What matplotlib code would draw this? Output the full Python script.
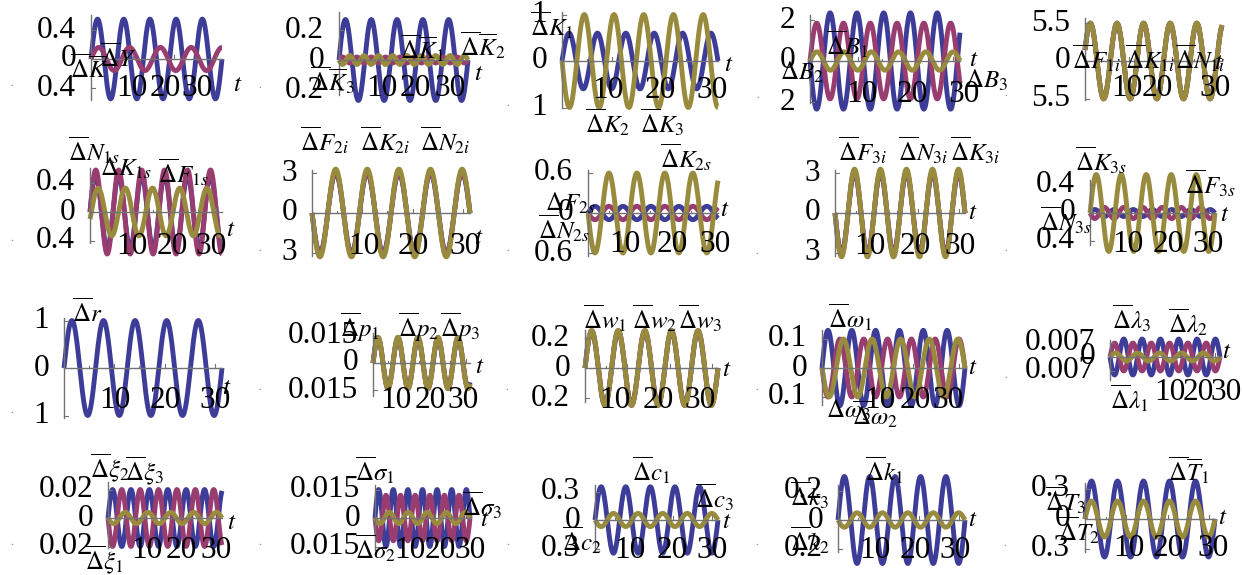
import numpy as np
import matplotlib.pyplot as plt

W, H = 1242, 575
plt.rcParams['mathtext.fontset'] = 'stix'
plt.rcParams['font.family'] = ['Liberation Serif', 'DejaVu Serif']

BLUE = (0.24, 0.24, 0.6)
MAGENTA = (0.6, 0.24, 0.4428)
OLIVE = (0.6, 0.547, 0.24)
AXIS_GREY = (0.45, 0.45, 0.45)

T_MAX = 10 * np.pi

# y tick value of each panel (the picture drops the minus sign on the lower tick)
y_tick = [0.4, 0.2, 1, 2, 5.5,
          0.4, 3, 0.6, 3, 0.4,
          1, 0.015, 0.2, 0.1, 0.007,
          0.02, 0.015, 0.3, 0.2, 0.3]
y_tick_text = ["0.4", "0.2", "1", "2", "5.5",
               "0.4", "3", "0.6", "3", "0.4",
               "1", "0.015", "0.2", "0.1", "0.007",
               "0.02", "0.015", "0.3", "0.2", "0.3"]

# each curve is (amplitude, angular frequency, phase); None = not drawn
blue_wave = [(0.55, 1.0, 0), (0.27, 1.0, 0), (0.6, 1.1, 0), (2.35, 1.12, np.pi), (5.4, 1.03, 0.3),
             (0.5, 1.15, 0), (3.0, 1.0, np.pi), (0.1, 0.93, 0), (3.0, 1.0, np.pi), (0.05, 1.3, 0),
             (1.0, 1.0, 0), (0.013, 0.97, 0), (0.24, 1.0, 0), (0.13, 1.2, 0), (0.009, 1.2, np.pi),
             (0.02, 1.24, 0), (0.015, 1.3, 0), (0.35, 1.0, 0), (0.3, 1.0, 0), (0.38, 1.0, 0)]
magenta_wave = [(0.16, 0.85, 0), (0.02, 1.8, 0), None, (1.85, 1.12, 0), (5.5, 1.03, 0.3),
                (0.58, 1.15, 0), (3.1, 1.0, np.pi), (0.1, 0.93, np.pi), (3.1, 1.0, np.pi), (0.08, 1.3, np.pi),
                None, (0.014, 0.97, 0), (0.25, 1.0, 0), (0.1, 1.2, np.pi), (0.007, 1.2, 0),
                (0.02, 1.24, np.pi), (0.012, 1.3, np.pi), None, None, None]
olive_wave = [None, (0.03, 1.8, np.pi), (1.0, 1.05, np.pi), (0.45, 1.1, 0), (5.5, 1.03, 0.3),
              (0.33, 0.97, -0.3), (3.3, 1.0, np.pi), (0.6, 0.93, np.pi), (3.3, 1.0, np.pi), (0.55, 1.0, 0),
              None, (0.014, 0.97, 0), (0.25, 1.0, 0), (0.1, 1.0, np.pi), (0.002, 1.0, 0),
              (0.004, 1.0, np.pi), (0.003, 1.0, np.pi), (0.07, 1.0, np.pi), (0.05, 1.0, np.pi), (0.18, 1.0, 0)]

# curve names written next to each panel
panel_labels = [
    [r"$\overline{\Delta}\overline{K}$", r"$\overline{\Delta}Y$"],
    [r"$\overline{\Delta}\overline{K}_1$", r"$\overline{\Delta}\overline{K}_2$", r"$\overline{\Delta}\overline{K}_3$"],
    [r"$\overline{\Delta}K_1$", r"$\overline{\Delta}K_2$", r"$\overline{\Delta}K_3$"],
    [r"$\overline{\Delta}B_1$", r"$\Delta B_2$", r"$\Delta B_3$"],
    [r"$\overline{\Delta}F_{1i}$", r"$\overline{\Delta}K_{1i}$", r"$\overline{\Delta}N_{1i}$"],
    [r"$\overline{\Delta}N_{1s}$", r"$\Delta K_{1s}$", r"$\overline{\Delta}F_{1s}$"],
    [r"$\overline{\Delta}F_{2i}$", r"$\overline{\Delta}K_{2i}$", r"$\overline{\Delta}N_{2i}$"],
    [r"$\overline{\Delta}K_{2s}$", r"$\Delta F_{2s}$", r"$\overline{\Delta}N_{2s}$"],
    [r"$\overline{\Delta}F_{3i}$", r"$\overline{\Delta}N_{3i}$", r"$\overline{\Delta}K_{3i}$"],
    [r"$\overline{\Delta}K_{3s}$", r"$\overline{\Delta}F_{3s}$", r"$\overline{\Delta}N_{3s}$"],
    [r"$\overline{\Delta}r$"],
    [r"$\overline{\Delta}p_1$", r"$\overline{\Delta}p_2$", r"$\overline{\Delta}p_3$"],
    [r"$\overline{\Delta}w_1$", r"$\overline{\Delta}w_2$", r"$\overline{\Delta}w_3$"],
    [r"$\overline{\Delta}\omega_1$", r"$\Delta\omega_3$", r"$\overline{\Delta}\omega_2$"],
    [r"$\overline{\Delta}\lambda_3$", r"$\overline{\Delta}\lambda_2$", r"$\overline{\Delta}\lambda_1$"],
    [r"$\overline{\Delta}\xi_2$", r"$\overline{\Delta}\xi_3$", r"$\overline{\Delta}\xi_1$"],
    [r"$\overline{\Delta}\sigma_1$", r"$\overline{\Delta}\sigma_3$", r"$\overline{\Delta}\sigma_2$"],
    [r"$\overline{\Delta}c_1$", r"$\overline{\Delta}c_3$", r"$\overline{\Delta}c_2$"],
    [r"$\overline{\Delta}k_1$", r"$\overline{\Delta}k_3$", r"$\overline{\Delta}k_2$"],
    [r"$\overline{\Delta}\overline{T}_1$", r"$\overline{\Delta}T_3$", r"$\overline{\Delta}T_2$"],
]
x_tick_text = ["10", "20", "30"]

# ---- layout, in pixels: x of t=0, x of t end, y of zero line, px per unit, axis top, axis bottom
boxes = [
    (91, 222, 59, 72.5, 15, 100), (339, 468, 60, 150, 12, 95), (562, 718, 61, 46.5, 12, 108),
    (810, 960, 61, 20.5, 15, 103), (1085, 1222, 61, 6.9, 18, 100),
    (90, 222, 212, 72.5, 168, 243), (312, 470, 213, 13.3, 170, 256), (588, 718, 213, 66.7, 170, 256),
    (835, 965, 213, 13.3, 170, 256), (1090, 1215, 213, 70, 180, 245),
    (64, 222, 368, 47.5, 318, 418), (373, 470, 363, 1833, 333, 396), (585, 718, 368, 150, 330, 402),
    (822, 965, 368, 290, 330, 405), (1110, 1220, 357, 2000, 340, 380),
    (108, 222, 518, 1425, 482, 548), (375, 470, 518, 1900, 485, 550), (595, 718, 520, 95, 485, 552),
    (838, 965, 520, 145, 485, 552), (1085, 1215, 519, 100, 483, 552),
]
# x tick label centres and their y, in pixels
xlab_pos = [
    ((132, 165, 197), 88), ((382, 415, 450), 88), ((608, 660, 712), 90), ((862, 912, 964), 95),
    ((1127, 1157, 1215), 88),
    ((132, 172, 211), 247), ((364, 413, 465), 247), ((625, 672, 715), 245), ((870, 915, 960), 247),
    ((1128, 1168, 1208), 245),
    ((115, 165, 215), 400), ((396, 430, 463), 400), ((615, 658, 700), 400), ((880, 915, 948), 400),
    ((1170, 1198, 1226), 392),
    ((147, 181, 216), 550), ((410, 440, 470), 550), ((630, 672, 712), 550), ((875, 915, 955), 550),
    ((1129, 1168, 1213), 548),
]
# where the italic t of each time axis sits
t_pos = [(233, 85), (474, 74), (724, 65), (969, 60), (1214, 63),
         (226, 230), (474, 238), (720, 210), (968, 213), (1220, 215),
         (222, 388), (475, 367), (722, 370), (968, 368), (1222, 352),
         (227, 523), (480, 520), (722, 522), (968, 520), (1218, 518)]
label_pos = [
    [(70, 68), (100, 57)], [(400, 48), (460, 45), (310, 80)], [(530, 25), (585, 122), (640, 122)],
    [(826, 44), (780, 72), (965, 80)], [(1072, 58), (1125, 58), (1175, 58)],
    [(68, 150), (100, 168), (158, 172)], [(300, 140), (360, 140), (420, 140)],
    [(660, 157), (545, 203), (538, 228)], [(838, 150), (898, 150), (950, 150)],
    [(1075, 160), (1185, 183), (1040, 220)],
    [(72, 312)], [(340, 327), (398, 327), (440, 327)], [(583, 318), (632, 318), (678, 318)],
    [(828, 317), (826, 410), (852, 414)], [(1112, 318), (1168, 322), (1110, 398)],
    [(90, 468), (125, 471), (85, 560)], [(355, 470), (462, 505), (355, 548)],
    [(632, 470), (695, 497), (562, 540)], [(865, 470), (790, 495), (790, 540)],
    [(1168, 470), (1045, 500), (1058, 530)],
]
# tiny dots left behind by the original export
dot_pos = [(12, 88), (260, 90), (508, 108), (758, 100), (1006, 98),
           (12, 243), (260, 253), (508, 253), (757, 256), (1006, 253),
           (12, 415), (260, 392), (507, 392), (757, 392), (1006, 380),
           (12, 547), (260, 547), (508, 547), (757, 547), (1005, 548)]

fig = plt.figure(figsize=(W / 100, H / 100), dpi=100)
t = np.linspace(0, T_MAX, 800)


def fx(px):
    return px / W


def fy(py):
    return 1 - py / H


for i in range(20):
    x0, x1, y0, ppu, top, bot = boxes[i]
    ax = fig.add_axes([fx(x0), fy(bot), (x1 - x0) / W, (bot - top) / H])
    ax.set_xlim(0, T_MAX)
    ax.set_ylim(-(bot - y0) / ppu, (y0 - top) / ppu)
    ax.axis('off')

    for wave, col in ((blue_wave[i], BLUE), (magenta_wave[i], MAGENTA), (olive_wave[i], OLIVE)):
        if wave is None:
            continue
        a, w, ph = wave
        ax.plot(t, a * np.sin(w * t + ph), color=col, lw=3.5, clip_on=False,
                solid_capstyle='butt', zorder=3)

    # axes through the origin, Mathematica style
    ylo, yhi = ax.get_ylim()
    ax.plot([0, T_MAX], [0, 0], color=AXIS_GREY, lw=1, zorder=4, clip_on=False)
    ax.plot([0, 0], [ylo, yhi], color=AXIS_GREY, lw=1, zorder=4, clip_on=False)
    tick_h = 4 / ppu
    for tx in range(5, 35, 5):
        h = tick_h if tx % 10 == 0 else tick_h * 0.5
        ax.plot([tx, tx], [0, h], color=AXIS_GREY, lw=0.8, zorder=4, clip_on=False)
    for v in (y_tick[i], -y_tick[i]):
        ax.plot([0, 4 * T_MAX / (x1 - x0)], [v, v], color=AXIS_GREY, lw=0.8, zorder=4, clip_on=False)

    # y tick labels (no minus sign in the source picture)
    for v, txt in ((y_tick[i], y_tick_text[i]), (0, "0"), (-y_tick[i], y_tick_text[i])):
        fig.text(fx(x0 - 15), fy(y0 - v * ppu), txt, ha='right', va='center', fontsize=22.5, zorder=6)

    xs, yl = xlab_pos[i]
    for cx, txt in zip(xs, x_tick_text):
        fig.text(fx(cx), fy(yl), txt, ha='center', va='center', fontsize=22.5, zorder=6)

    tx_, ty_ = t_pos[i]
    fig.text(fx(tx_), fy(ty_), r"$t$", ha='left', va='center', fontsize=18, zorder=6)

    for txt, (lx, ly) in zip(panel_labels[i], label_pos[i]):
        fig.text(fx(lx), fy(ly), txt, ha='left', va='center', fontsize=18, zorder=7)

for dx, dy in dot_pos:
    fig.text(fx(dx), fy(dy), ".", fontsize=7, color='0.35', ha='center', va='bottom')

fig.savefig("out.png", dpi=100)
